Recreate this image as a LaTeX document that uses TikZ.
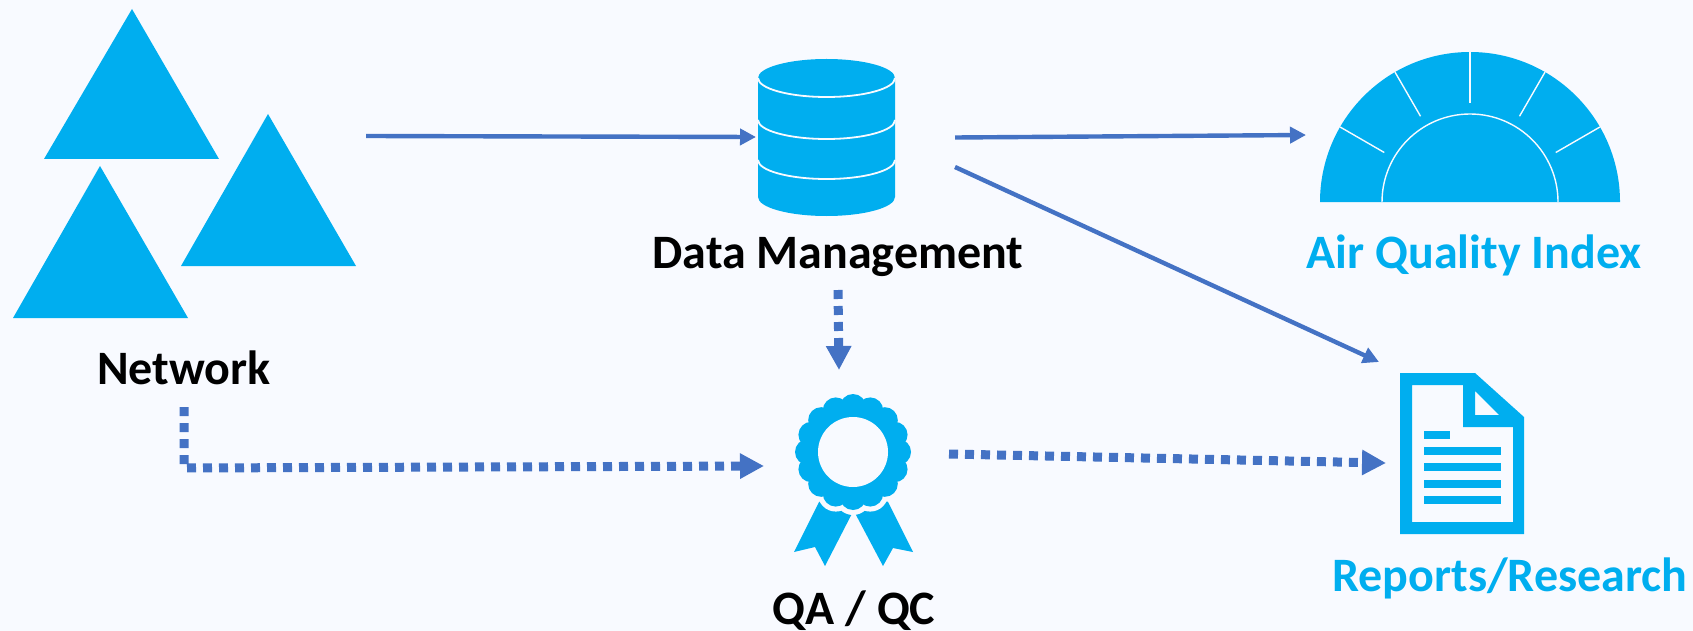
\documentclass[tikz,border=0pt]{standalone}
\usepackage{fontspec}
\setmainfont{Carlito}
\usetikzlibrary{arrows.meta}
\definecolor{bgc}{HTML}{F8FAFF}
\definecolor{cy}{HTML}{00AEEF}
\definecolor{ar}{HTML}{4472C4}
\tikzset{
 ico/.style={fill=cy,draw=none},
 wl/.style={draw=bgc,line width=1.8pt},
 solidarrow/.style={draw=ar,line width=4.4pt,-{Triangle[length=16pt,width=16pt]}},
 dotarrow/.style={draw=ar,line width=9pt,dash pattern=on 9pt off 7pt,-{Triangle[length=24pt,width=24pt]}},
 lab/.style={font=\bfseries\fontsize{48}{52}\selectfont,inner sep=0pt,anchor=base},
}
\begin{document}
\begin{tikzpicture}[x=1pt,y=-1pt]
\useasboundingbox (0,0) rectangle (1693,631);
\fill[bgc] (0,0) rectangle (1693,631);
% network
\fill[ico] (132,9) -- (219,159) -- (44,159) -- cycle;
\fill[ico] (268,114) -- (356,266) -- (181,266) -- cycle;
\fill[ico] (100,166) -- (188,318) -- (13,318) -- cycle;
% database
\fill[ico] (758,78) arc[x radius=68.5,y radius=19,start angle=180,end angle=360] -- (895,197) arc[x radius=68.5,y radius=19,start angle=0,end angle=180] -- cycle;
\draw[wl] (758,78) arc[x radius=68.5,y radius=19,start angle=180,end angle=0];
\draw[wl] (758,120) arc[x radius=68.5,y radius=19,start angle=180,end angle=0];
\draw[wl] (758,160) arc[x radius=68.5,y radius=19,start angle=180,end angle=0];
% gauge
\fill[ico] (1320,202) arc[radius=150,start angle=180,end angle=360] -- cycle;
\draw[wl,line width=1.4pt] (1382,202) arc[radius=88,start angle=180,end angle=360];
\foreach \a in {30,60,90,120,150}
  \draw[wl,line width=1.4pt] ({1470+99*cos(\a)},{202-99*sin(\a)}) -- ({1470+150*cos(\a)},{202-150*sin(\a)});
% rosette
\fill[ico] (794,552) -- (828,484) -- (860,498) -- (825,566) -- (815,547) -- cycle;
\fill[ico] (913,552) -- (879,484) -- (847,498) -- (883,566) -- (893,548) -- cycle;
\fill[bgc] (853,452) circle[radius=50];
\foreach \a in {0,22.5,...,337.5}
  \fill[bgc] ({853+45*cos(\a)},{452-45*sin(\a)}) circle[radius=18];
\fill[ico] (853,452) circle[radius=52];
\foreach \a in {0,22.5,...,337.5}
  \fill[ico] ({853+45*cos(\a)},{452-45*sin(\a)}) circle[radius=13];
\fill[bgc] (853,452) circle[radius=35];
% document
\fill[ico,even odd rule] (1400,373) -- (1475,373) -- (1524,417) -- (1524,534) -- (1400,534) -- cycle
  (1412,385) -- (1463,385) -- (1463,427) -- (1513,427) -- (1513,522) -- (1412,522) -- cycle
  (1475,391) -- (1499,415) -- (1475,415) -- cycle;
\foreach \y/\x in {435/1450,451/1501,467/1501,484/1501,500/1501}
  \fill[ico] (1424,\y-4) rectangle (\x,\y+4);
% labels
\node[lab] (net) at (184,384) {Network};
\node[lab] (dm) at (838,268) {Data Management};
\node[lab,text=cy] (aqi) at (1474,268) {Air Quality Index};
\node[lab,text=cy] (rr) at (1510,591) {Reports/Research};
\node[lab] (qa) at (854,624) {QA / QC};
% connectors
\coordinate (a1) at (366,136); \coordinate (a2) at (756,137);
\coordinate (b1) at (955,137.5); \coordinate (b2) at (1306,135);
\coordinate (c1) at (955,167); \coordinate (c2) at (1379,362);
\coordinate (d1) at (838,290); \coordinate (d2) at (839,370);
\coordinate (e1) at (184,407); \coordinate (e0) at (184,468); \coordinate (e2) at (764,466);
\coordinate (f1) at (949,454); \coordinate (f2) at (1386,463);
\draw[solidarrow] (a1) -- (a2);
\draw[solidarrow] (b1) -- (b2);
\draw[solidarrow] (c1) -- (c2);
\draw[dotarrow] (d1) -- (d2);
\draw[dotarrow] (e1) -- (e0) -- (e2);
\draw[dotarrow] (f1) -- (f2);
\end{tikzpicture}
\end{document}
